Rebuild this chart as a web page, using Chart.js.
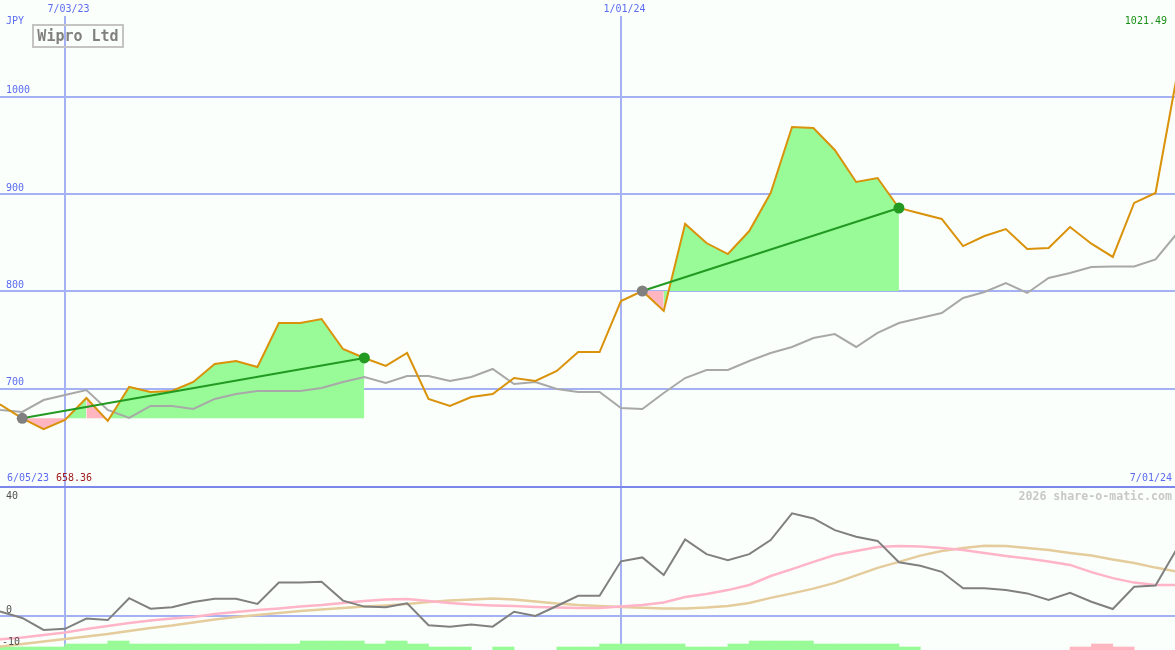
<!DOCTYPE html>
<html>
<head>
<meta charset="utf-8">
<script src="https://cdn.jsdelivr.net/npm/chart.js@4.4.0/dist/chart.umd.min.js"></script>
<style>
html, body { margin: 0; padding: 0; background: #fbfffb; }
#wrap { position: relative; width: 1175px; height: 650px; overflow: hidden; background: #fbfffb; }
canvas { position: absolute; left: 0; }
#top { top: 0; }
#bot { top: 487px; }
#divider { position: absolute; left: 0; top: 486px; width: 1175px; height: 2px; background: #7b87ea; }
#title { position: absolute; left: 32px; top: 24px; width: 88px; height: 20px; border: 2px solid #c4c4c4;
  font: bold 15px "DejaVu Sans Mono", monospace; line-height: 20px; text-align: center; color: #808080; }
.lbl { position: absolute; font: 10px "DejaVu Sans Mono", monospace; line-height: 12px; white-space: nowrap; }
</style>
</head>
<body>
<div id="wrap">
  <canvas id="top" width="1175" height="488"></canvas>
  <canvas id="bot" width="1175" height="163"></canvas>
  <div id="divider"></div>
  <div id="title">Wipro Ltd</div>
</div>
<script>
// weekly closes, 6/05/23 .. 7/01/24 (index 0..56)
const price = [692, 683.3, 669.6, 658.36, 667.9, 690.5, 666.9, 701.8, 696.6, 697.7,
  706.9, 725.4, 728.5, 722.3, 767.5, 767.5, 771.6, 740.8, 731.6, 723.4,
  736.7, 689.5, 682.3, 691.5, 694.6, 711.0, 708.0, 718.2, 737.7, 737.7,
  790.1, 800.4, 779.9, 869.3, 849.7, 838.4, 862.0, 901.1, 968.9, 967.9,
  945.3, 912.4, 916.5, 885.7, 880.0, 874.4, 846.6, 856.9, 864.1, 843.6,
  844.6, 866.2, 849.0, 835.4, 890.9, 901.1, 1021.49];

// grey comparison line
const compare = [681, 678.2, 676.1, 688.4, 693.6, 698.7, 678.2, 670.0, 682.3, 682.3,
  679.2, 689.5, 694.6, 697.7, 697.7, 697.7, 700.8, 706.9, 712.1, 705.9,
  713.1, 713.1, 708.0, 712.1, 720.3, 704.9, 706.9, 699.7, 696.6, 696.6,
  680.2, 679.2, 695.6, 711.0, 719.2, 719.2, 728.5, 736.7, 742.9, 752.1,
  756.2, 742.9, 757.3, 767.5, 772.7, 777.8, 793.2, 799.4, 808.6, 798.4,
  813.8, 818.9, 825.1, 825.6, 825.6, 832.8, 859.5];

// lower panel
const momentum = [2.5, 1.3, -0.8, -4.8, -4.4, -1.0, -1.5, 5.8, 2.3, 2.8,
  4.5, 5.6, 5.6, 3.9, 11.0, 11.0, 11.3, 5.0, 3.0, 2.8,
  4.1, -3.2, -3.7, -3.0, -3.7, 1.3, -0.1, 3.2, 6.6, 6.6,
  18.1, 19.4, 13.5, 25.4, 20.5, 18.5, 20.5, 25.2, 34.1, 32.4,
  28.5, 26.3, 24.9, 17.8, 16.6, 14.6, 9.1, 9.1, 8.5, 7.4,
  5.2, 7.6, 4.6, 2.2, 9.6, 10.0, 22.3];
const avgFast = [-9.1, -7.9, -7.3, -6.5, -5.6, -4.5, -3.5, -2.5, -1.6, -1.0,
  -0.5, 0.5, 1.2, 1.9, 2.4, 3.0, 3.5, 4.2, 4.9, 5.4,
  5.5, 4.9, 4.2, 3.7, 3.4, 3.2, 2.9, 2.7, 2.5, 2.5,
  3.0, 3.5, 4.4, 6.2, 7.2, 8.5, 10.2, 13.2, 15.5, 17.9,
  20.2, 21.5, 22.9, 23.2, 23.0, 22.5, 21.9, 20.9, 19.9, 19.0,
  18.0, 16.9, 14.5, 12.5, 11.0, 10.2, 10.2];
const avgSlow = [-11.1, -10.3, -9.5, -8.6, -7.8, -7.0, -6.1, -5.1, -4.1, -3.3,
  -2.3, -1.3, -0.5, 0.2, 0.9, 1.5, 2.0, 2.5, 3.0, 3.4,
  3.9, 4.5, 5.0, 5.4, 5.7, 5.4, 4.7, 4.0, 3.5, 3.2,
  2.9, 2.6, 2.4, 2.4, 2.7, 3.2, 4.2, 5.9, 7.4, 9.0,
  10.9, 13.4, 15.9, 17.9, 20.0, 21.5, 22.5, 23.3, 23.2, 22.5,
  21.9, 20.9, 20.0, 18.7, 17.5, 16.0, 14.7];
// signal strip, one value per week interval (+ green, - pink)
const signal = [1, 1, 1, 1, 2, 2, 3, 2, 2, 2,
  2, 2, 2, 2, 2, 3, 3, 3, 2, 3,
  2, 1, 1, 0, 1, 0, 0, 1, 1, 2,
  2, 2, 2, 1, 1, 2, 3, 3, 3, 2,
  2, 2, 2, 1, 0, 0, 0, 0, 0, 0,
  0, -1, -2, -1, 0, 0];

// trades: entry / exit week index
const tradeEntry = [2, 31];
const tradeExit = [18, 43];

const dateTickIdx = [4, 30];
const dateTickLabels = ['7/03/23', '1/01/24'];
const priceTicks = [700, 800, 900, 1000];
const lowerTicks = [40, 0, -10];

const GRID = '#a4b2f4';
const GREEN_FILL = '#98fb98';
const PINK_FILL = '#ffb6c1';
const BLUE_TXT = '#5b6cf0';

function xy(arr) { return arr.map((v, i) => ({ x: i, y: v })); }

function xScale() {
  return {
    type: 'linear', min: 0.96, max: 55.91, offset: false,
    afterBuildTicks: ax => { ax.ticks = dateTickIdx.map(v => ({ value: v })); },
    ticks: { display: false },
    grid: { color: GRID, lineWidth: 2, drawTicks: false, offset: false },
    border: { display: false }
  };
}

function tradeFill(k) {
  const a = tradeEntry[k], b = tradeExit[k], base = price[a];
  const pts = [];
  for (let i = a; i <= b; i++) pts.push({ x: i, y: price[i] });
  return {
    data: pts, borderWidth: 0, pointRadius: 0, backgroundColor: GREEN_FILL,
    fill: { value: base },
    segment: { backgroundColor: c => (c.p1.parsed.y >= base ? GREEN_FILL : PINK_FILL) }
  };
}

function tradeLine(k) {
  const a = tradeEntry[k], b = tradeExit[k];
  return {
    data: [{ x: a, y: price[a] }, { x: b, y: price[b] }],
    borderColor: '#229a22', borderWidth: 2, fill: false,
    pointRadius: 5.5, pointBorderWidth: 0,
    pointBackgroundColor: ['#808080', '#229a22']
  };
}

const topChart = new Chart(document.getElementById('top'), {
  type: 'line',
  data: {
    datasets: [
      tradeLine(0),
      tradeLine(1),
      { data: xy(price), borderColor: '#d9920a', borderWidth: 2, pointRadius: 0, fill: false },
      { data: xy(compare), borderColor: '#a8a8a8', borderWidth: 2, pointRadius: 0, fill: false },
      tradeFill(0),
      tradeFill(1)
    ]
  },
  options: {
    responsive: false, animation: false, events: [],
    layout: { autoPadding: false, padding: { top: 16, left: 0, right: 0, bottom: 0 } },
    elements: { line: { tension: 0 } },
    plugins: { legend: { display: false }, tooltip: { enabled: false } },
    scales: {
      x: xScale(),
      y: {
        min: 598.0, max: 1082.96,
        afterBuildTicks: ax => { ax.ticks = priceTicks.map(v => ({ value: v })); },
        ticks: { display: false },
        grid: { color: GRID, lineWidth: 2, drawTicks: false },
        border: { display: false }
      }
    }
  }
});

const LOW_MIN = -11.47, LOW_MAX = 42.87;
const bars = [];
signal.forEach((v, i) => {
  if (v !== 0) bars.push({ x: i + 0.5, y: [LOW_MIN, LOW_MIN + Math.abs(v)], s: v });
});

const botChart = new Chart(document.getElementById('bot'), {
  data: {
    datasets: [
      { type: 'line', data: xy(momentum), borderColor: '#808080', borderWidth: 2, pointRadius: 0 },
      { type: 'line', data: xy(avgFast), borderColor: '#ffb4c8', borderWidth: 2.5, pointRadius: 0 },
      { type: 'line', data: xy(avgSlow), borderColor: '#e4cc9c', borderWidth: 2.5, pointRadius: 0 },
      {
        type: 'bar', data: bars, barPercentage: 1, categoryPercentage: 1, borderWidth: 0,
        backgroundColor: c => (c.raw && c.raw.s < 0 ? PINK_FILL : GREEN_FILL)
      }
    ]
  },
  options: {
    responsive: false, animation: false, events: [],
    layout: { autoPadding: false, padding: 0 },
    elements: { line: { tension: 0 } },
    plugins: { legend: { display: false }, tooltip: { enabled: false } },
    scales: {
      x: xScale(),
      y: {
        min: LOW_MIN, max: LOW_MAX,
        afterBuildTicks: ax => { ax.ticks = [{ value: 0 }]; },
        ticks: { display: false },
        grid: { color: GRID, lineWidth: 2, drawTicks: false },
        border: { display: false }
      }
    }
  }
});

// text labels
const wrap = document.getElementById('wrap');
function label(text, pos, cy, color, extra) {
  const d = document.createElement('div');
  d.className = 'lbl';
  d.textContent = text;
  d.style.top = (cy - 6) + 'px';
  if (pos.left !== undefined) d.style.left = pos.left + 'px';
  if (pos.right !== undefined) d.style.right = pos.right + 'px';
  d.style.color = color;
  if (extra) Object.assign(d.style, extra);
  wrap.appendChild(d);
}

const yT = topChart.scales.y, xT = topChart.scales.x, yB = botChart.scales.y;
priceTicks.forEach(v => label(String(v), { left: 6 }, yT.getPixelForValue(v) - 6.3, BLUE_TXT));
dateTickIdx.forEach((idx, k) => label(dateTickLabels[k], { left: xT.getPixelForValue(idx) - 17.5 }, 9, BLUE_TXT));
label('JPY', { left: 6 }, 21, BLUE_TXT);
label('1021.49', { right: 8 }, 21, '#189018');
label('6/05/23', { left: 7 }, 478, BLUE_TXT);
label('658.36', { left: 56 }, 478, '#a01c1c');
label('7/01/24', { right: 3 }, 478, BLUE_TXT);
label('2026 share-o-matic.com', { right: 3 }, 496, '#c8c8c8', { fontWeight: 'bold', fontSize: '11.6px' });
const lowOff = { 40: 0.4, 0: -6, '-10': -3.6 };
lowerTicks.forEach(v => label(String(v), { left: v < 0 ? 2 : 6 }, 487 + yB.getPixelForValue(v) + lowOff[v], '#505050'));
</script>
</body>
</html>
